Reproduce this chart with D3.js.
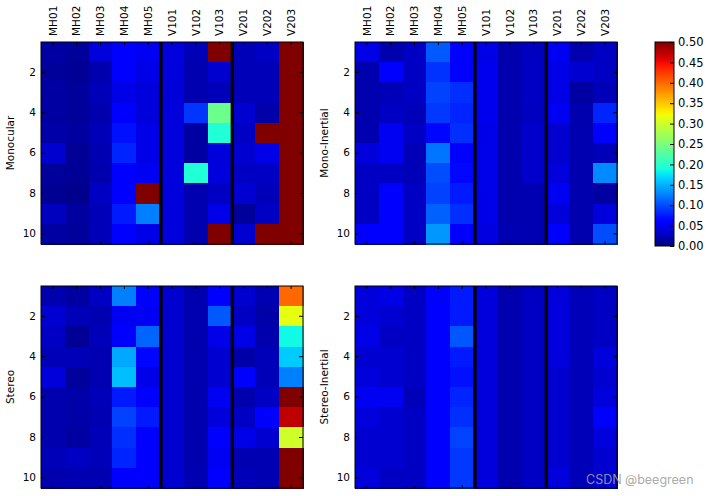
<!DOCTYPE html>
<html>
<head>
<meta charset="utf-8">
<script src="https://cdn.jsdelivr.net/npm/d3@7"></script>
<style>
html,body{margin:0;padding:0;background:#fff;}
svg text{font-family:"DejaVu Sans",sans-serif;}
</style>
</head>
<body>
<svg id="chart" width="711" height="496"></svg>
<script>
// ---- data ----
const sequences = ["MH01","MH02","MH03","MH04","MH05","V101","V102","V103","V201","V202","V203"];
const runs = [1,2,3,4,5,6,7,8,9,10];
const rowTicks = [2,4,6,8,10];
const colorTicks = [0,0.05,0.1,0.15,0.2,0.25,0.3,0.35,0.4,0.45,0.5];
const modes = ["Monocular","Mono-Inertial","Stereo","Stereo-Inertial"];
const separators = ["V101","V201"];

// values per sequence (column), 10 runs each
const monocular = [
  [0.015,0.012,0.015,0.015,0.018,0.035,0.012,0.008,0.028,0.015],
  [0.012,0.010,0.012,0.012,0.014,0.010,0.010,0.006,0.014,0.012],
  [0.040,0.020,0.025,0.020,0.025,0.022,0.020,0.030,0.025,0.025],
  [0.055,0.055,0.045,0.055,0.070,0.080,0.060,0.058,0.075,0.062],
  [0.050,0.045,0.040,0.040,0.045,0.045,0.050,0.500,0.125,0.045],
  [0.040,0.040,0.038,0.040,0.040,0.040,0.040,0.040,0.040,0.040],
  [0.025,0.020,0.020,0.088,0.015,0.015,0.195,0.020,0.020,0.020],
  [0.500,0.035,0.025,0.240,0.195,0.040,0.040,0.030,0.045,0.500],
  [0.025,0.025,0.025,0.035,0.030,0.035,0.030,0.035,0.012,0.035],
  [0.030,0.025,0.025,0.018,0.500,0.045,0.030,0.025,0.030,0.500],
  [0.500,0.500,0.500,0.500,0.500,0.500,0.500,0.500,0.500,0.500]
];
const monoInertial = [
  [0.045,0.020,0.020,0.020,0.020,0.040,0.030,0.030,0.030,0.055],
  [0.020,0.058,0.025,0.030,0.050,0.050,0.030,0.055,0.055,0.055],
  [0.030,0.030,0.030,0.025,0.030,0.025,0.025,0.030,0.030,0.030],
  [0.106,0.087,0.095,0.090,0.065,0.120,0.100,0.095,0.110,0.137],
  [0.060,0.062,0.085,0.080,0.085,0.062,0.065,0.075,0.085,0.060],
  [0.045,0.048,0.048,0.048,0.045,0.045,0.045,0.045,0.045,0.042],
  [0.020,0.020,0.020,0.020,0.020,0.020,0.020,0.020,0.020,0.022],
  [0.028,0.030,0.030,0.028,0.032,0.032,0.032,0.022,0.022,0.022],
  [0.050,0.045,0.045,0.050,0.035,0.035,0.040,0.050,0.040,0.058],
  [0.020,0.035,0.015,0.020,0.020,0.020,0.020,0.020,0.020,0.020],
  [0.030,0.030,0.025,0.080,0.060,0.025,0.130,0.015,0.040,0.100]
];
const stereo = [
  [0.020,0.035,0.030,0.025,0.040,0.020,0.020,0.020,0.025,0.020],
  [0.015,0.025,0.010,0.025,0.012,0.018,0.018,0.015,0.030,0.022],
  [0.030,0.022,0.025,0.022,0.022,0.025,0.022,0.025,0.025,0.022],
  [0.125,0.050,0.058,0.145,0.156,0.075,0.095,0.085,0.080,0.060],
  [0.055,0.050,0.112,0.065,0.045,0.055,0.075,0.060,0.055,0.055],
  [0.035,0.035,0.035,0.035,0.035,0.035,0.035,0.035,0.035,0.035],
  [0.020,0.020,0.020,0.020,0.020,0.020,0.020,0.020,0.020,0.022],
  [0.058,0.106,0.045,0.035,0.035,0.050,0.040,0.058,0.050,0.060],
  [0.035,0.030,0.045,0.018,0.058,0.020,0.030,0.045,0.022,0.025],
  [0.022,0.018,0.020,0.025,0.025,0.030,0.055,0.035,0.022,0.022],
  [0.400,0.315,0.185,0.162,0.125,0.500,0.472,0.300,0.500,0.500]
];
const stereoInertial = [
  [0.040,0.040,0.045,0.035,0.040,0.050,0.040,0.035,0.035,0.040],
  [0.045,0.035,0.030,0.035,0.035,0.050,0.035,0.035,0.035,0.030],
  [0.030,0.030,0.030,0.030,0.030,0.025,0.030,0.030,0.030,0.030],
  [0.055,0.055,0.055,0.055,0.055,0.055,0.055,0.055,0.055,0.055],
  [0.075,0.075,0.105,0.075,0.070,0.080,0.085,0.095,0.090,0.090],
  [0.040,0.040,0.040,0.040,0.040,0.040,0.040,0.040,0.040,0.040],
  [0.020,0.020,0.020,0.020,0.020,0.020,0.020,0.020,0.020,0.020],
  [0.030,0.030,0.030,0.030,0.030,0.030,0.030,0.030,0.030,0.030],
  [0.040,0.040,0.040,0.040,0.035,0.035,0.035,0.035,0.035,0.040],
  [0.025,0.025,0.025,0.025,0.025,0.025,0.025,0.025,0.025,0.025],
  [0.030,0.030,0.030,0.040,0.035,0.040,0.060,0.040,0.035,0.035]
];
const panelData = [monocular, monoInertial, stereo, stereoInertial];

// ---- jet colormap (matplotlib) ----
function seg(pts, t){
  for (let i=1;i<pts.length;i++){
    if (t<=pts[i][0]){
      const [x0,y0]=pts[i-1],[x1,y1]=pts[i];
      return y0+(y1-y0)*(t-x0)/(x1-x0);
    }
  }
  return pts[pts.length-1][1];
}
const R=[[0,0],[0.35,0],[0.66,1],[0.89,1],[1,0.5]];
const G=[[0,0],[0.125,0],[0.375,1],[0.64,1],[0.91,0],[1,0]];
const B=[[0,0.5],[0.11,1],[0.34,1],[0.65,0],[1,0]];
function jet(t){
  t=Math.max(0,Math.min(1,t));
  return d3.rgb(255*seg(R,t),255*seg(G,t),255*seg(B,t)).formatHex();
}
const norm = d3.scaleLinear().domain([0,0.5]).range([0,1]).clamp(true);
const color = v => jet(norm(v));

// ---- layout ----
const svg = d3.select("#chart");
const W = 262, H = 202;
const origins = [[41,42],[355,42],[41,286],[355,286]];

const x = d3.scaleBand().domain(sequences).range([0,W]).padding(0);
const y = d3.scaleBand().domain(runs).range([0,H]).padding(0);

panelData.forEach((data, p) => {
  const [ox, oy] = origins[p];
  const g = svg.append("g").attr("transform", `translate(${ox},${oy})`);
  sequences.forEach((s, ci) => {
    g.selectAll(null).data(data[ci]).enter().append("rect")
      .attr("x", x(s)).attr("y", (d,i)=>y(runs[i]))
      .attr("width", x.bandwidth()+0.6).attr("height", y.bandwidth()+0.6)
      .attr("shape-rendering","crispEdges")
      .attr("fill", d=>color(d));
  });
  // separators
  g.selectAll(null).data(separators).enter().append("line")
    .attr("x1", d=>x(d)+0.8).attr("x2", d=>x(d)+0.8)
    .attr("y1", 0).attr("y2", H)
    .attr("stroke", "#000").attr("stroke-width", 3.4);
  // axes
  const top = d3.axisTop(x).tickSize(-3).tickPadding(3);
  const gt = g.append("g").call(top);
  if (p < 2) {
    gt.selectAll("text").attr("transform", "rotate(-90)")
      .attr("text-anchor", "start").attr("x", 6).attr("y", 0).attr("dy", "0.35em");
  } else {
    gt.selectAll("text").remove();
  }
  g.append("g").attr("transform", `translate(0,${H})`)
    .call(d3.axisBottom(x).tickValues(sequences.filter((d,i)=>i%2===0)).tickSize(-3).tickFormat(""));
  g.append("g").call(d3.axisLeft(y).tickValues(rowTicks).tickSize(-4).tickPadding(5));
  g.append("g").attr("transform", `translate(${W},0)`)
    .call(d3.axisRight(y).tickValues(rowTicks).tickSize(-4).tickFormat(""));
  g.selectAll(".domain").remove();
  g.selectAll(".tick line").attr("stroke", "#000").attr("stroke-width", 1);
  g.selectAll(".tick text").attr("font-size", 10.5).attr("fill", "#000")
    .style("font-family", '"DejaVu Sans",sans-serif');
  g.append("rect").attr("x",0).attr("y",0).attr("width",W).attr("height",H)
    .attr("fill","none").attr("stroke","#000").attr("stroke-width",1);
  // y label
  g.append("text").attr("transform", `translate(${-27},${H/2}) rotate(-90)`)
    .attr("text-anchor","middle").attr("font-size", 10.5).text(modes[p]);
});

// ---- colorbar ----
const cb = svg.append("g").attr("transform","translate(655,42)");
const cbH = 204, cbW = 19;
const grad = svg.append("defs").append("linearGradient").attr("id","jetg")
  .attr("x1",0).attr("y1",1).attr("x2",0).attr("y2",0);
d3.range(0,1.0001,0.02).forEach(t=>{
  grad.append("stop").attr("offset",t).attr("stop-color",jet(t));
});
cb.append("rect").attr("width",cbW).attr("height",cbH).attr("fill","url(#jetg)")
  .attr("stroke","#000").attr("stroke-width",1);
const cy = d3.scaleLinear().domain([0,0.5]).range([cbH,0]);
const ca = cb.append("g").attr("transform",`translate(${cbW},0)`)
  .call(d3.axisRight(cy).tickValues(colorTicks).tickSize(-4).tickPadding(4).tickFormat(d3.format(".2f")));
ca.select(".domain").remove();
ca.selectAll("text").attr("font-size",11.5).attr("fill","#000").style("font-family",'"DejaVu Sans",sans-serif');

// watermark
svg.append("text").attr("x",586).attr("y",484).attr("font-size",12.5)
  .attr("fill","#a0a0a0").attr("fill-opacity",0.9)
  .style("font-family","Inter, Roboto, sans-serif").text("CSDN @beegreen");
</script>
</body>
</html>
